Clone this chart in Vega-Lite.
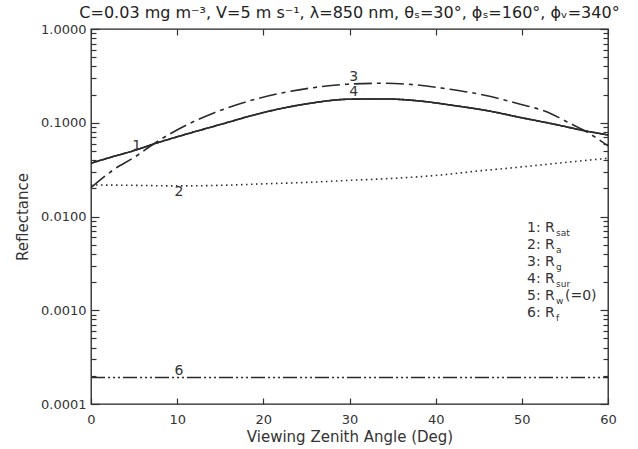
{
  "$schema": "https://vega.github.io/schema/vega-lite/v6.json",
  "autosize": {"type": "none"},
  "padding": {"left": 91, "top": 29, "right": 30, "bottom": 45},
  "width": 517,
  "height": 375,
  "config": {
    "view": {"stroke": "#222", "strokeWidth": 1.3},
    "font": "DejaVu Sans",
    "axis": {"grid": false, "domain": false, "tickColor": "#333", "labelColor": "#333", "titleColor": "#333", "titleFontWeight": "normal", "labelFontSize": 13, "titleFontSize": 15, "tickWidth": 1.2}
  },
  "title": {"text": "C=0.03 mg m⁻³, V=5 m s⁻¹, λ=850 nm, θₛ=30°, ϕₛ=160°, ϕᵥ=340°", "fontSize": 16, "fontWeight": "normal", "color": "#222", "offset": 2, "anchor": "middle", "frame": "group"},
  "datasets": {
    "curves": [
      {"series": "1", "angle": 0, "refl": 0.037},
      {"series": "1", "angle": 2.5, "refl": 0.0434},
      {"series": "1", "angle": 5, "refl": 0.0505},
      {"series": "1", "angle": 7.5, "refl": 0.0603},
      {"series": "1", "angle": 10, "refl": 0.0708},
      {"series": "1", "angle": 15, "refl": 0.0957},
      {"series": "1", "angle": 20, "refl": 0.1285},
      {"series": "1", "angle": 25, "refl": 0.159},
      {"series": "1", "angle": 30, "refl": 0.1783},
      {"series": "1", "angle": 34, "refl": 0.1794},
      {"series": "1", "angle": 38, "refl": 0.1712},
      {"series": "1", "angle": 42, "refl": 0.1532},
      {"series": "1", "angle": 46, "refl": 0.1345},
      {"series": "1", "angle": 50, "refl": 0.113},
      {"series": "1", "angle": 54, "refl": 0.0955},
      {"series": "1", "angle": 57, "refl": 0.0832},
      {"series": "1", "angle": 60, "refl": 0.0741},
      {"series": "4", "angle": 0, "refl": 0.037},
      {"series": "4", "angle": 2.5, "refl": 0.0434},
      {"series": "4", "angle": 5, "refl": 0.0505},
      {"series": "4", "angle": 7.5, "refl": 0.0603},
      {"series": "4", "angle": 10, "refl": 0.0708},
      {"series": "4", "angle": 15, "refl": 0.0957},
      {"series": "4", "angle": 20, "refl": 0.1285},
      {"series": "4", "angle": 25, "refl": 0.159},
      {"series": "4", "angle": 30, "refl": 0.1783},
      {"series": "4", "angle": 34, "refl": 0.1794},
      {"series": "4", "angle": 38, "refl": 0.1712},
      {"series": "4", "angle": 42, "refl": 0.1532},
      {"series": "4", "angle": 46, "refl": 0.1345},
      {"series": "4", "angle": 50, "refl": 0.113},
      {"series": "4", "angle": 54, "refl": 0.0955},
      {"series": "4", "angle": 57, "refl": 0.0832},
      {"series": "4", "angle": 60, "refl": 0.0741},
      {"series": "3", "angle": 0, "refl": 0.0203},
      {"series": "3", "angle": 2.58, "refl": 0.0314},
      {"series": "3", "angle": 5.14, "refl": 0.0435},
      {"series": "3", "angle": 7.26, "refl": 0.0594},
      {"series": "3", "angle": 10.36, "refl": 0.0874},
      {"series": "3", "angle": 14.18, "refl": 0.1263},
      {"series": "3", "angle": 18.09, "refl": 0.1679},
      {"series": "3", "angle": 21.96, "refl": 0.2063},
      {"series": "3", "angle": 25.78, "refl": 0.2367},
      {"series": "3", "angle": 29.69, "refl": 0.2573},
      {"series": "3", "angle": 33.94, "refl": 0.2637},
      {"series": "3", "angle": 37.81, "refl": 0.2529},
      {"series": "3", "angle": 41.67, "refl": 0.2276},
      {"series": "3", "angle": 45.54, "refl": 0.1978},
      {"series": "3", "angle": 49.41, "refl": 0.1614},
      {"series": "3", "angle": 53.27, "refl": 0.1263},
      {"series": "3", "angle": 55.21, "refl": 0.1027},
      {"series": "3", "angle": 57.13, "refl": 0.0838},
      {"series": "3", "angle": 60, "refl": 0.0566},
      {"series": "2", "angle": 0, "refl": 0.0217},
      {"series": "2", "angle": 5, "refl": 0.0215},
      {"series": "2", "angle": 10, "refl": 0.0212},
      {"series": "2", "angle": 15, "refl": 0.0215},
      {"series": "2", "angle": 20, "refl": 0.0223},
      {"series": "2", "angle": 25, "refl": 0.0231},
      {"series": "2", "angle": 30, "refl": 0.0243},
      {"series": "2", "angle": 35, "refl": 0.0255},
      {"series": "2", "angle": 40, "refl": 0.0274},
      {"series": "2", "angle": 45, "refl": 0.0306},
      {"series": "2", "angle": 50, "refl": 0.0338},
      {"series": "2", "angle": 55, "refl": 0.0377},
      {"series": "2", "angle": 60, "refl": 0.0418},
      {"series": "6", "angle": 0, "refl": 0.000192},
      {"series": "6", "angle": 30, "refl": 0.000192},
      {"series": "6", "angle": 60, "refl": 0.000192}
    ],
    "curveLabels": [
      {"angle": 5.3, "refl": 0.0567, "txt": "1"},
      {"angle": 10.2, "refl": 0.0184, "txt": "2"},
      {"angle": 30.5, "refl": 0.305, "txt": "3"},
      {"angle": 30.5, "refl": 0.2146, "txt": "4"},
      {"angle": 10.2, "refl": 0.000226, "txt": "6"}
    ],
    "legendRows": [
      {"angle": 50.6, "refl": 0.00756, "main": "1: R", "sub": "sat", "tail": ""},
      {"angle": 50.6, "refl": 0.00498, "main": "2: R", "sub": "a", "tail": ""},
      {"angle": 50.6, "refl": 0.00328, "main": "3: R", "sub": "g", "tail": ""},
      {"angle": 50.6, "refl": 0.00216, "main": "4: R", "sub": "sur", "tail": ""},
      {"angle": 50.6, "refl": 0.001424, "main": "5: R", "sub": "w", "tail": "(=0)"},
      {"angle": 50.6, "refl": 0.000938, "main": "6: R", "sub": "f", "tail": ""}
    ]
  },
  "layer": [
    {
      "layer": [
        {
          "data": {"name": "curves"},
          "mark": {"type": "line", "interpolate": "monotone", "color": "#2a2a2a", "strokeWidth": 1.6},
          "encoding": {
            "x": {"field": "angle", "type": "quantitative", "scale": {"domain": [0, 60], "nice": false},
              "axis": {"values": [0, 10, 20, 30, 40, 50, 60], "tickSize": -6, "labelPadding": 15, "labelFlush": false, "title": "Viewing Zenith Angle (Deg)", "titlePadding": 3}},
            "y": {"field": "refl", "type": "quantitative", "scale": {"type": "log", "domain": [0.0001, 1], "nice": false},
              "axis": {
                "values": [0.0001, 0.0002, 0.0003, 0.0004, 0.0005, 0.0006, 0.0007, 0.0008, 0.0009, 0.001, 0.002, 0.003, 0.004, 0.005, 0.006, 0.007, 0.008, 0.009, 0.01, 0.02, 0.03, 0.04, 0.05, 0.06, 0.07, 0.08, 0.09, 0.1, 0.2, 0.3, 0.4, 0.5, 0.6, 0.7, 0.8, 0.9, 1],
                "labelExpr": "abs(log(datum.value)/LN10 - round(log(datum.value)/LN10)) < 0.001 ? format(datum.value, '.4f') : ''",
                "tickSize": {"condition": {"test": "abs(log(datum.value)/LN10 - round(log(datum.value)/LN10)) < 0.001", "value": -8}, "value": -5},
                "labelPadding": 13, "labelFlush": false, "labelOverlap": false, "title": "Reflectance", "titlePadding": 10}},
            "detail": {"field": "series"},
            "strokeDash": {"field": "series", "type": "nominal", "scale": {"domain": ["1", "2", "3", "4", "6"], "range": [[1, 0], [1.5, 3.5], [18, 5, 4, 5], [1, 0], [14, 3, 2, 3, 2, 3, 2, 3]]}, "legend": null}
          }
        },
        {
          "data": {"name": "curveLabels"},
          "mark": {"type": "text", "fontSize": 14, "color": "#333", "align": "center", "baseline": "middle"},
          "encoding": {
            "x": {"field": "angle", "type": "quantitative"},
            "y": {"field": "refl", "type": "quantitative"},
            "text": {"field": "txt"}
          }
        },
        {
          "data": {"name": "legendRows"},
          "mark": {"type": "text", "fontSize": 14, "color": "#333", "align": "left", "baseline": "middle"},
          "encoding": {
            "x": {"field": "angle", "type": "quantitative"},
            "y": {"field": "refl", "type": "quantitative"},
            "text": {"field": "main"}
          }
        },
        {
          "data": {"name": "legendRows"},
          "mark": {"type": "text", "fontSize": 9, "color": "#333", "align": "left", "baseline": "middle", "dx": 29, "dy": 5},
          "encoding": {
            "x": {"field": "angle", "type": "quantitative"},
            "y": {"field": "refl", "type": "quantitative"},
            "text": {"field": "sub"}
          }
        },
        {
          "data": {"name": "legendRows"},
          "mark": {"type": "text", "fontSize": 14, "color": "#333", "align": "left", "baseline": "middle", "dx": 38},
          "encoding": {
            "x": {"field": "angle", "type": "quantitative"},
            "y": {"field": "refl", "type": "quantitative"},
            "text": {"field": "tail"}
          }
        }
      ]
    },
    {
      "data": {"name": "curves"},
      "mark": {"type": "line", "opacity": 0},
      "encoding": {
        "x": {"field": "angle", "type": "quantitative", "scale": {"domain": [0, 60], "nice": false},
          "axis": {"orient": "top", "values": [0, 10, 20, 30, 40, 50, 60], "tickSize": -6, "labels": false, "title": null}},
        "y": {"field": "refl", "type": "quantitative", "scale": {"type": "log", "domain": [0.0001, 1], "nice": false},
          "axis": {"orient": "right", "labels": false, "title": null,
            "values": [0.0001, 0.0002, 0.0003, 0.0004, 0.0005, 0.0006, 0.0007, 0.0008, 0.0009, 0.001, 0.002, 0.003, 0.004, 0.005, 0.006, 0.007, 0.008, 0.009, 0.01, 0.02, 0.03, 0.04, 0.05, 0.06, 0.07, 0.08, 0.09, 0.1, 0.2, 0.3, 0.4, 0.5, 0.6, 0.7, 0.8, 0.9, 1],
            "tickSize": {"condition": {"test": "abs(log(datum.value)/LN10 - round(log(datum.value)/LN10)) < 0.001", "value": -8}, "value": -5}}},
        "detail": {"field": "series"}
      }
    }
  ],
  "resolve": {"scale": {"x": "independent", "y": "independent"}}
}
